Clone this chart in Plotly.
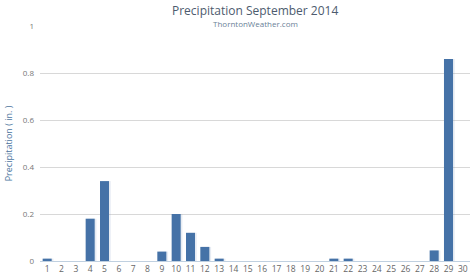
import plotly.graph_objects as go

days = list(range(1, 31))
precip = [0.01, 0, 0, 0.18, 0.34, 0, 0, 0, 0.04, 0.20,
          0.12, 0.06, 0.01, 0, 0, 0, 0, 0, 0, 0,
          0.01, 0.01, 0, 0, 0, 0, 0, 0.045, 0.86, 0]
y_ticks = [0, 0.2, 0.4, 0.6, 0.8, 1]
y_tick_text = ["0", "0.2", "0.4", "0.6", "0.8", "1"]

bar_w = 0.63
fig = go.Figure()
# soft shadow
fig.add_trace(go.Bar(x=days, y=precip, width=bar_w, offset=-bar_w / 2 + 0.12,
                     marker=dict(color="rgba(120,150,190,0.18)", line=dict(width=0)),
                     hoverinfo="skip", showlegend=False))
fig.add_trace(go.Bar(x=days, y=precip, width=bar_w, offset=-bar_w / 2,
                     marker=dict(color="#4572A7", line=dict(width=0)),
                     showlegend=False))

fig.update_layout(
    width=474, height=277,
    margin=dict(l=40, r=4, t=26, b=16),
    barmode="overlay",
    plot_bgcolor="white", paper_bgcolor="white",
    font=dict(family="Open Sans, DejaVu Sans, sans-serif", size=9, color="#666666"),
    annotations=[
        dict(text="Precipitation September 2014", x=0.5, y=1, xref="paper", yref="paper",
             xanchor="center", yanchor="middle", yshift=16, showarrow=False,
             font=dict(size=12, color="#4d5b6e")),
        dict(text="ThorntonWeather.com", x=0.5, y=1, xref="paper", yref="paper",
             xanchor="center", yanchor="middle", yshift=3, showarrow=False,
             font=dict(size=8, color="#6a7f97")),
    ],
)
fig.update_xaxes(
    range=[0.5, 30.5], tickmode="array", tickvals=days, ticktext=[str(d) for d in days],
    showgrid=False, showline=True, linecolor="#C0D0E0", linewidth=1,
    ticks="", ticklabelstandoff=0, tickfont=dict(size=8.5, color="#666666"),
    automargin=False, fixedrange=True,
)
fig.update_yaxes(
    range=[0, 1.0], tickmode="array", tickvals=y_ticks, ticktext=y_tick_text,
    showgrid=True, gridcolor="#D8D8D8", gridwidth=1, zeroline=False,
    tickfont=dict(size=8, color="#777777"), ticklabelstandoff=5,
    title=dict(text="Precipitation ( in. )", font=dict(size=9, color="#4d759e"), standoff=8),
    automargin=False, fixedrange=True,
)
fig.write_html("out.html")
